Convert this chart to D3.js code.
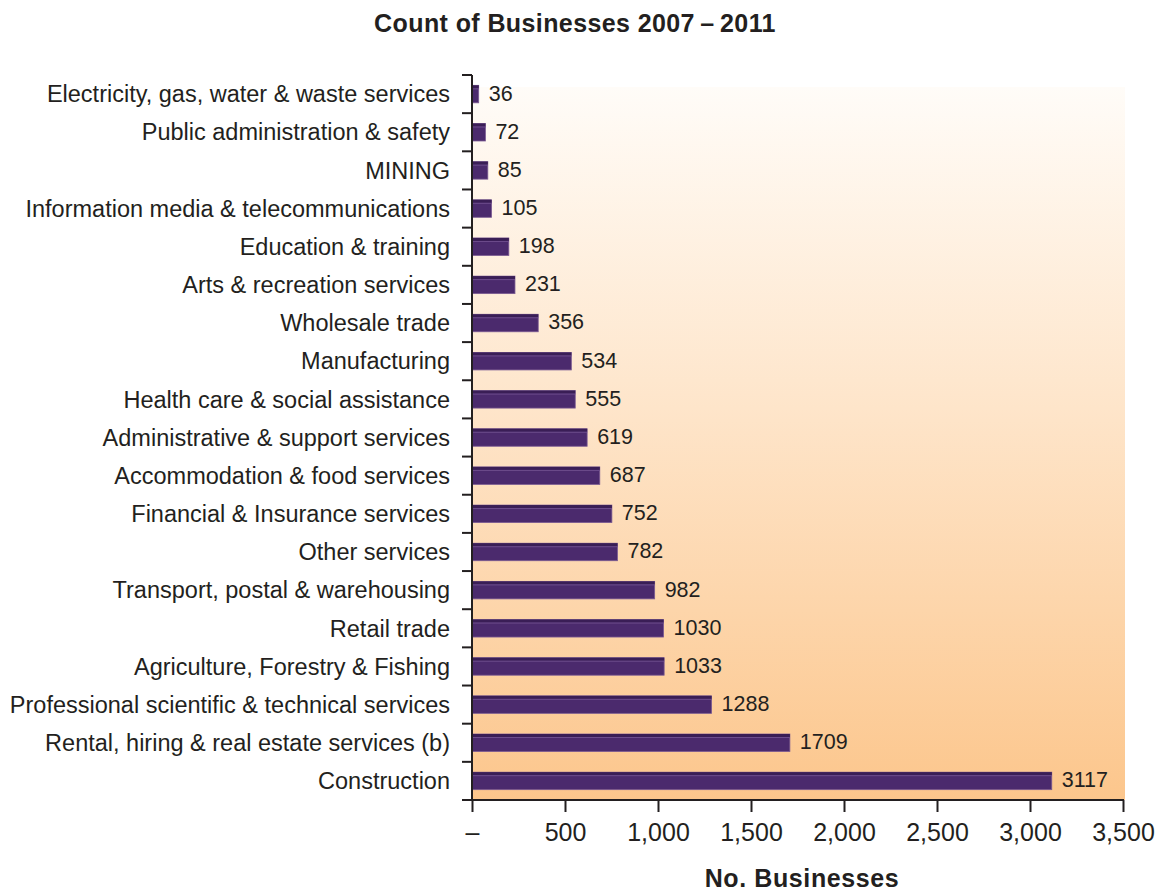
<!DOCTYPE html>
<html>
<head>
<meta charset="utf-8">
<script src="https://cdn.jsdelivr.net/npm/d3@7"></script>
<style>
  html, body { margin: 0; padding: 0; background: #ffffff; }
  svg { display: block; font-family: "Liberation Sans", Arial, Helvetica, sans-serif; }
</style>
</head>
<body>
<svg id="chart" width="1159" height="895"></svg>
<script>
// Industry categories, listed top to bottom
const categories = [
  "Electricity, gas, water & waste services",
  "Public administration & safety",
  "MINING",
  "Information media & telecommunications",
  "Education & training",
  "Arts & recreation services",
  "Wholesale trade",
  "Manufacturing",
  "Health care & social assistance",
  "Administrative & support services",
  "Accommodation & food services",
  "Financial & Insurance services",
  "Other services",
  "Transport, postal & warehousing",
  "Retail trade",
  "Agriculture, Forestry & Fishing",
  "Professional scientific & technical services",
  "Rental, hiring & real estate services (b)",
  "Construction"
];

// Number of businesses per category
const counts = [36, 72, 85, 105, 198, 231, 356, 534, 555, 619, 687, 752, 782, 982, 1030, 1033, 1288, 1709, 3117];

// X axis ticks and their labels
const xTicks = [0, 500, 1000, 1500, 2000, 2500, 3000, 3500];
const xTickLabels = ["\u2013", "500", "1,000", "1,500", "2,000", "2,500", "3,000", "3,500"];

const chartTitle = "Count of Businesses 2007\u2009\u2013\u20092011";
const xTitle = "No. Businesses";

const data = categories.map((c, i) => ({ category: c, value: counts[i] }));

const svg = d3.select("#chart");
const plotLeft = 472, plotRight = 1123, plotTop = 75, plotBottom = 800;

const x = d3.scaleLinear().domain([0, 3500]).range([plotLeft, plotRight]);
const y = d3.scaleBand().domain(categories).range([plotTop, plotBottom]).paddingInner(0).paddingOuter(0);

// Plot background: fades from near-white at the top to peach at the bottom
const defs = svg.append("defs");
const grad = defs.append("linearGradient")
  .attr("id", "bgGrad").attr("x1", 0).attr("y1", 0).attr("x2", 0).attr("y2", 1);
grad.append("stop").attr("offset", "0%").attr("stop-color", "#fffcf8");
grad.append("stop").attr("offset", "45%").attr("stop-color", "#fee5ca");
grad.append("stop").attr("offset", "100%").attr("stop-color", "#fcc68c");

svg.append("rect")
  .attr("x", plotLeft).attr("y", 87)
  .attr("width", 1125 - plotLeft).attr("height", plotBottom - 87)
  .attr("fill", "url(#bgGrad)");

// Bars
const barH = 17.5;
const barTop = d => y(d.category) + y.bandwidth() / 2 - barH / 2;
const bars = svg.append("g").selectAll("g.bar").data(data).join("g").attr("class", "bar");

bars.append("rect")
  .attr("x", x(0))
  .attr("y", barTop)
  .attr("width", d => x(d.value) - x(0))
  .attr("height", barH)
  .attr("fill", "#4b2a6d")
  .attr("stroke", "#7a5a92")
  .attr("stroke-width", 0.8);

// darker top edge giving the bars a slight bevel
bars.append("rect")
  .attr("x", x(0))
  .attr("y", barTop)
  .attr("width", d => x(d.value) - x(0))
  .attr("height", 3)
  .attr("fill", "#3a1e56");

bars.append("line")
  .attr("x1", x(0))
  .attr("x2", d => x(d.value))
  .attr("y1", d => barTop(d) + 3.5)
  .attr("y2", d => barTop(d) + 3.5)
  .attr("stroke", "#6d4d8c")
  .attr("stroke-width", 1);

// Value labels at the bar ends
svg.append("g").selectAll("text").data(data).join("text")
  .attr("x", d => x(d.value) + 10)
  .attr("y", d => y(d.category) + y.bandwidth() / 2)
  .attr("dy", "0.3em")
  .attr("font-size", 21.5)
  .attr("fill", "#231f20")
  .text(d => d.value);

// Y axis: category names with ticks on the band boundaries
const yAxis = svg.append("g");
yAxis.append("line")
  .attr("x1", plotLeft).attr("x2", plotLeft)
  .attr("y1", plotTop).attr("y2", plotBottom)
  .attr("stroke", "#231f20").attr("stroke-width", 2);

const boundaries = categories.map(c => y(c)).concat([plotBottom]);
yAxis.selectAll("line.ytick").data(boundaries).join("line")
  .attr("class", "ytick")
  .attr("x1", plotLeft - 10).attr("x2", plotLeft)
  .attr("y1", d => d).attr("y2", d => d)
  .attr("stroke", "#231f20").attr("stroke-width", 2);

yAxis.selectAll("text").data(categories).join("text")
  .attr("x", 450)
  .attr("y", d => y(d) + y.bandwidth() / 2)
  .attr("dy", "0.35em")
  .attr("text-anchor", "end")
  .attr("font-size", 23.5)
  .attr("fill", "#231f20")
  .text(d => d);

// X axis
const xAxis = d3.axisBottom(x)
  .tickValues(xTicks)
  .tickFormat((d, i) => xTickLabels[i])
  .tickSize(12)
  .tickPadding(11)
  .tickSizeOuter(0);

const gx = svg.append("g")
  .attr("transform", `translate(0,${plotBottom})`)
  .call(xAxis);
gx.select(".domain").attr("stroke", "#231f20").attr("stroke-width", 2)
  .attr("d", `M${plotLeft - 1},0H${plotRight + 1}`);
gx.selectAll(".tick line").attr("stroke", "#231f20").attr("stroke-width", 2);
gx.selectAll(".tick text")
  .attr("font-family", "\"Liberation Sans Narrow\", \"Arial Narrow\", \"Liberation Sans\", sans-serif")
  .attr("font-size", 25)
  .attr("fill", "#231f20");

// Titles
svg.append("text")
  .attr("x", 575).attr("y", 32)
  .attr("text-anchor", "middle")
  .attr("font-size", 25)
  .attr("font-weight", "bold")
  .attr("letter-spacing", "0.4px")
  .attr("fill", "#231f20")
  .text(chartTitle);

svg.append("text")
  .attr("x", 802).attr("y", 887)
  .attr("text-anchor", "middle")
  .attr("font-size", 25)
  .attr("font-weight", "bold")
  .attr("letter-spacing", "0.6px")
  .attr("fill", "#231f20")
  .text(xTitle);
</script>
</body>
</html>
